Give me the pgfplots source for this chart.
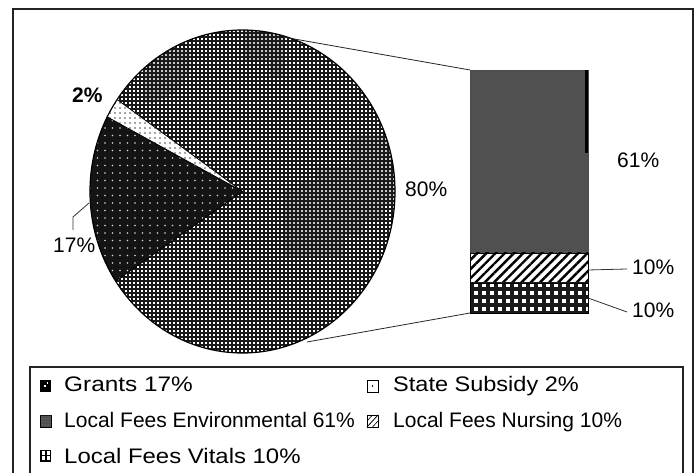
\documentclass[border=0pt]{standalone}
\usepackage{pgfplots}
\pgfplotsset{compat=1.18}
\usepackage{fontspec}
\setmainfont{Liberation Sans}
\usepackage{graphicx}
\usetikzlibrary{patterns.meta}

\definecolor{envgray}{RGB}{80,80,80}
\definecolor{framec}{RGB}{35,35,35}
\definecolor{scangray}{RGB}{200,200,200}
\newcommand{\lab}[1]{\fontsize{21bp}{24bp}\selectfont #1}

\begin{document}
\begin{tikzpicture}
\useasboundingbox (0,0) rectangle (697bp,473bp);
% ---------- bar of pie (local fees breakdown) ----------
\begin{axis}[
  at={(470bp,160bp)}, anchor=south west,
  width=118bp, height=243bp, scale only axis,
  xmin=0, xmax=1, ymin=0, ymax=81,
  hide axis, clip=false,
  ybar stacked, bar width=118bp,
]
% Local Fees Vitals 10
\addplot[draw=black, line width=0.8bp, preaction={fill=white},
  pattern={Hatch[distance=8bp, line width=3.4bp]}, pattern color=black!90]
  coordinates {(0.5,10)};
% Local Fees Nursing 10
\addplot[draw=black, line width=0.8bp, preaction={fill=white},
  pattern={Lines[angle=45, distance=6.5bp, line width=2.4bp]}, pattern color=black]
  coordinates {(0.5,10)};
% Local Fees Environmental 61
\addplot[draw=black!70, line width=0.8bp, fill=envgray]
  coordinates {(0.5,61)};
\end{axis}
% ---------- main layer (pie, frame, labels, legend) ----------
\begin{axis}[
  at={(0,0)}, anchor=south west,
  width=697bp, height=473bp, scale only axis,
  xmin=0, xmax=697, ymin=0, ymax=473,
  hide axis, clip=false,
]
% outer frame and legend box
\draw[line width=1.3bp, framec] (13,0) -- (13,464) -- (693,464) -- (693,0);
\draw[line width=1.1bp, framec] (30,0) -- (30,106) -- (683,106) -- (683,0);
% pie: Local Fees 81, State Subsidy 2, Grants 17
\fill[white] (242.5,281.5) -- +(213.7:152.5bp and 161.5bp)
  arc[start angle=213.7, delta angle={81*3.6}, x radius=152.5bp, y radius=161.5bp] -- cycle;
\begin{scope}
\clip (242.5,281.5) -- +(213.7:152.5bp and 161.5bp)
  arc[start angle=213.7, delta angle={81*3.6}, x radius=152.5bp, y radius=161.5bp] -- cycle;
\fill[scangray] (317,306) -- (350,306) -- (350,338) -- (400,338) -- (400,268) -- (385,268)
  -- (385,251) -- (365,251) -- (365,238) -- (345,238) -- (345,215) -- (285,215)
  -- (285,283) -- (300,283) -- (300,293) -- (317,293) -- cycle;
\fill[scangray] (243,443) -- (285,443) -- (285,396) -- (270,396) -- (270,413) -- (243,413) -- cycle;
\fill[scangray] (143,423) -- (190,425) -- (190,403) -- (178,383) -- (155,370) -- (143,370) -- cycle;
\end{scope}
\fill[pattern={Hatch[distance=4bp, line width=1.35bp]}, pattern color=black!90]
  (242.5,281.5) -- +(213.7:152.5bp and 161.5bp)
  arc[start angle=213.7, delta angle={81*3.6}, x radius=152.5bp, y radius=161.5bp] -- cycle;
\fill[white] (242.5,281.5) -- +(145.3:152.5bp and 161.5bp)
  arc[start angle=145.3, delta angle={2*3.6}, x radius=152.5bp, y radius=161.5bp] -- cycle;
\fill[pattern={Dots[distance=5bp, radius=0.8bp]}, pattern color=black!70]
  (242.5,281.5) -- +(145.3:152.5bp and 161.5bp)
  arc[start angle=145.3, delta angle={2*3.6}, x radius=152.5bp, y radius=161.5bp] -- cycle;
\fill[black!92] (242.5,281.5) -- +(152.5:152.5bp and 161.5bp)
  arc[start angle=152.5, delta angle={17*3.6}, x radius=152.5bp, y radius=161.5bp] -- cycle;
\fill[pattern={Dots[distance=7.5bp, radius=0.8bp]}, pattern color=white!85!black]
  (242.5,281.5) -- +(152.5:152.5bp and 161.5bp)
  arc[start angle=152.5, delta angle={17*3.6}, x radius=152.5bp, y radius=161.5bp] -- cycle;
\draw[line width=1.2bp, black] (242.5,281.5) ellipse[x radius=152.5bp, y radius=161.5bp];
\draw[line width=0.8bp, black] (242.5,281.5) -- +(145.3:152.5bp and 161.5bp);
\draw[line width=0.8bp, black] (242.5,281.5) -- +(152.5:152.5bp and 161.5bp);
\draw[line width=0.8bp, black] (242.5,281.5) -- +(213.7:152.5bp and 161.5bp);
% connector lines to bar
\draw[line width=0.8bp, black!85] (283,436) -- (470,403);
\draw[line width=0.8bp, black!85] (307,131) -- (470,160);
% dark edge on bar
\draw[line width=3bp, black] (586,403) -- (586,320);
% leader lines
\draw[line width=0.8bp, black!80] (89,270) -- (73,256) -- (73,243);
\draw[line width=0.8bp, black!80] (588,203) -- (627,204);
\draw[line width=0.8bp, black!80] (588,175) -- (627,161);
% data labels
\node[anchor=base west, inner sep=0] at (72,370) {\lab{\bfseries 2\%}};
\node[anchor=base west, inner sep=0] at (53,220) {\lab{17\%}};
\node[anchor=base west, inner sep=0] at (405,276) {\lab{80\%}};
\node[anchor=base west, inner sep=0] at (617,305) {\lab{61\%}};
\node[anchor=base west, inner sep=0] at (632,198) {\lab{10\%}};
\node[anchor=base west, inner sep=0] at (632,155) {\lab{10\%}};
% legend markers
\fill[black] (40,81) rectangle (51,93);
\fill[white] (44,86) rectangle (45.5,87.5);
\fill[white] (46.5,89) rectangle (48,90.5);
\draw[line width=0.8bp, black, fill=white] (367,81) rectangle (378,93);
\fill[black] (372.5,87) circle[radius=0.8bp];
\draw[line width=0.6bp, black, fill=envgray] (40,46) rectangle (51,58);
\fill[pattern={Dots[distance=3bp, radius=0.5bp]}, pattern color=black!40] (40,46) rectangle (51,58);
\draw[line width=0.8bp, black, fill=white] (367,46) rectangle (378,58);
\draw[line width=0.8bp, black] (367,46) -- (378,58);
\draw[line width=0.6bp, black] (367,52) -- (372.5,58);
\draw[line width=0.6bp, black] (372.5,46) -- (378,52);
\fill[black] (40,11) rectangle (51,23);
\fill[white] (42,13) rectangle (45,16.5);
\fill[white] (46.5,13) rectangle (49.5,16.5);
\fill[white] (42,18) rectangle (45,21.5);
\fill[white] (46.5,18) rectangle (49.5,21.5);
% legend texts
\node[anchor=base west, inner sep=0] at (64,81) {\scalebox{1.16}[1]{\lab{Grants 17\%}}};
\node[anchor=base west, inner sep=0] at (393,81) {\scalebox{1.12}[1]{\lab{State Subsidy 2\%}}};
\node[anchor=base west, inner sep=0] at (64,45) {\lab{Local Fees Environmental 61\%}};
\node[anchor=base west, inner sep=0] at (393,45) {\lab{Local Fees Nursing 10\%}};
\node[anchor=base west, inner sep=0] at (64,10) {\scalebox{1.14}[1]{\lab{Local Fees Vitals 10\%}}};
\end{axis}
\end{tikzpicture}
\end{document}
